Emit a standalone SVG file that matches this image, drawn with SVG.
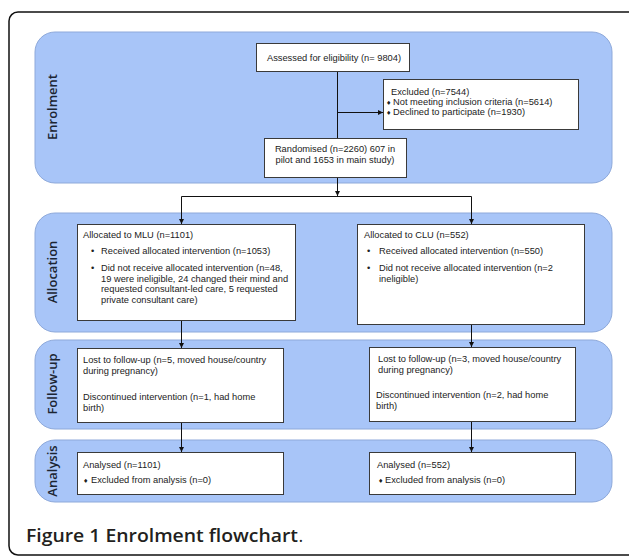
<svg xmlns="http://www.w3.org/2000/svg" width="629" height="556" viewBox="0 0 629 556">
<defs>
<style>
.band{fill:#a8c5f8;stroke:#8ea9da;stroke-width:1}
.box{fill:#ffffff;stroke:#3a3a3a;stroke-width:1}
.t{font-family:"Liberation Sans",Arial,sans-serif;font-size:9.3px;fill:#222222}
.c{text-anchor:middle}
.d{font-family:"DejaVu Sans",sans-serif;font-size:6px;fill:#222222}
.lbl{font-family:"Open Sans","Noto Sans",sans-serif;font-size:13px;font-weight:600;fill:#1c2533;text-anchor:middle}
.ln{fill:none;stroke:#111111;stroke-width:1}
.cap{font-family:"Open Sans","Noto Sans",sans-serif;font-size:18px;fill:#231f20}
</style>
<marker id="ah" viewBox="0 0 10 10" refX="10" refY="5" markerWidth="5" markerHeight="5" orient="auto" markerUnits="userSpaceOnUse">
<path d="M0,0 L10,5 L0,10 z" fill="#111111"/>
</marker>
</defs>
<rect x="0" y="0" width="629" height="556" fill="#ffffff"/>
<rect x="9" y="12" width="640" height="543" rx="9" fill="none" stroke="#111111" stroke-width="1.5"/>

<g id="bands">
<rect class="band" x="35" y="32" width="577" height="151" rx="20"/>
<rect class="band" x="35" y="213" width="577" height="119" rx="20"/>
<rect class="band" x="35" y="340" width="577" height="89" rx="20"/>
<rect class="band" x="35" y="440" width="577" height="62" rx="20"/>
<text class="lbl" transform="translate(57,107) rotate(-90)">Enrolment</text>
<text class="lbl" transform="translate(57,272) rotate(-90)">Allocation</text>
<text class="lbl" transform="translate(57,384) rotate(-90)">Follow-up</text>
<text class="lbl" transform="translate(57,471) rotate(-90)">Analysis</text>
</g>

<g id="connectors">
<path class="ln" d="M337.5,71 V138"/>
<path class="ln" d="M337.5,112.5 H383" marker-end="url(#ah)"/>
<path class="ln" d="M337.5,177 V196" marker-end="url(#ah)"/>
<path class="ln" d="M181.5,196.5 H471.5"/>
<path class="ln" d="M181.5,196.5 V224" marker-end="url(#ah)"/>
<path class="ln" d="M471.5,196.5 V224" marker-end="url(#ah)"/>
<path class="ln" d="M181.5,320 V348" marker-end="url(#ah)"/>
<path class="ln" d="M471.5,324 V347" marker-end="url(#ah)"/>
<path class="ln" d="M181.5,422 V452" marker-end="url(#ah)"/>
<path class="ln" d="M471.5,421 V452" marker-end="url(#ah)"/>
</g>

<g id="assessed">
<rect class="box" x="256.5" y="43.5" width="153" height="28"/>
<text class="t c" x="334" y="60.5">Assessed for eligibility (n= 9804)</text>
</g>

<g id="excluded">
<rect class="box" x="383.5" y="79.5" width="195" height="50"/>
<text class="t" x="391" y="95">Excluded (n=7544)</text>
<text class="d" x="386" y="104.5">♦</text>
<text class="t" x="393" y="105">Not meeting inclusion criteria (n=5614)</text>
<text class="d" x="386" y="114.5">♦</text>
<text class="t" x="393" y="115">Declined to participate (n=1930)</text>
</g>

<g id="randomised">
<rect class="box" x="264.5" y="138.5" width="142" height="39"/>
<text class="t c" x="335" y="152">Randomised (n=2260) 607 in</text>
<text class="t c" x="335" y="163">pilot and 1653 in main study)</text>
</g>

<g id="alloc-mlu">
<rect class="box" x="77.5" y="224.5" width="218" height="96"/>
<text class="t" x="83" y="238">Allocated to MLU (n=1101)</text>
<text class="t" x="91" y="254">•</text>
<text class="t" x="101" y="254">Received allocated intervention (n=1053)</text>
<text class="t" x="91" y="271">•</text>
<text class="t" x="101" y="271">Did not receive allocated intervention (n=48,</text>
<text class="t" x="101" y="281.5">19 were ineligible, 24 changed their mind and</text>
<text class="t" x="101" y="292">requested consultant-led care, 5 requested</text>
<text class="t" x="101" y="302.5">private consultant care)</text>
</g>

<g id="alloc-clu">
<rect class="box" x="357.5" y="224.5" width="227" height="100"/>
<text class="t" x="364" y="238">Allocated to CLU (n=552)</text>
<text class="t" x="367" y="254">•</text>
<text class="t" x="379" y="254">Received allocated intervention (n=550)</text>
<text class="t" x="367" y="271">•</text>
<text class="t" x="379" y="271">Did not receive allocated intervention (n=2</text>
<text class="t" x="379" y="281.5">ineligible)</text>
</g>

<g id="followup-mlu">
<rect class="box" x="77.5" y="348.5" width="206" height="74"/>
<text class="t" x="83" y="363">Lost to follow-up (n=5, moved house/country</text>
<text class="t" x="83" y="374">during pregnancy)</text>
<text class="t" x="83" y="400">Discontinued intervention (n=1, had home</text>
<text class="t" x="83" y="411">birth)</text>
</g>

<g id="followup-clu">
<rect class="box" x="369.5" y="347.5" width="206" height="74"/>
<text class="t" x="378" y="362">Lost to follow-up (n=3, moved house/country</text>
<text class="t" x="378" y="373">during pregnancy)</text>
<text class="t" x="376" y="398">Discontinued intervention (n=2, had home</text>
<text class="t" x="376" y="409">birth)</text>
</g>

<g id="analysis-mlu">
<rect class="box" x="77.5" y="452.5" width="206" height="42"/>
<text class="t" x="83" y="468">Analysed (n=1101)</text>
<text class="d" x="83" y="482.5">♦</text>
<text class="t" x="91" y="483">Excluded from analysis (n=0)</text>
</g>

<g id="analysis-clu">
<rect class="box" x="369.5" y="452.5" width="206" height="42"/>
<text class="t" x="377" y="468">Analysed (n=552)</text>
<text class="d" x="378" y="482.5">♦</text>
<text class="t" x="385" y="483">Excluded from analysis (n=0)</text>
</g>

<g id="caption">
<text class="cap" x="26" y="542" font-weight="600" textLength="272" lengthAdjust="spacingAndGlyphs">Figure 1 Enrolment flowchart</text>
<text class="cap" x="298.5" y="542">.</text>
</g>
</svg>
